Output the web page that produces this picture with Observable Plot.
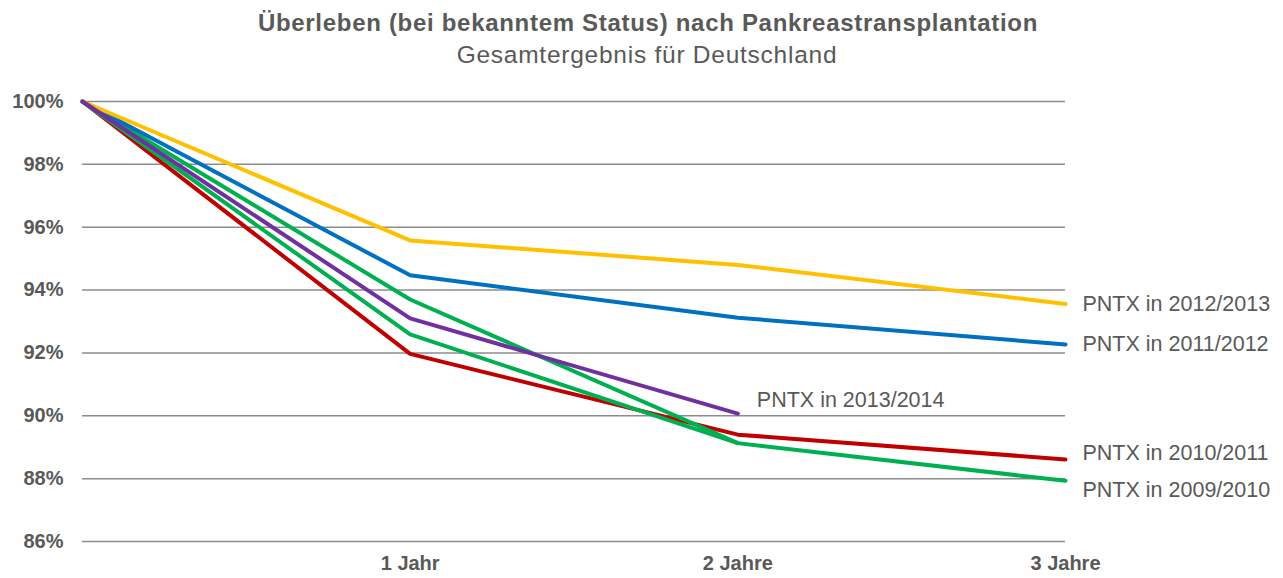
<!DOCTYPE html>
<html>
<head>
<meta charset="utf-8">
<script src="https://cdn.jsdelivr.net/npm/d3@7"></script>
<script src="https://cdn.jsdelivr.net/npm/@observablehq/plot@0.6"></script>
<style>
  html, body { margin: 0; padding: 0; background: #fff; }
  body { width: 1283px; height: 578px; overflow: hidden; font-family: "Liberation Sans", Arial, sans-serif; color: #595959; }
  #title { padding-top: 9px; height: 28px; line-height: 28px; font-size: 24px; letter-spacing: 0.7px; font-weight: bold; text-align: center; padding-left: 13px; white-space: nowrap; }
  #subtitle { margin-top: 4px; height: 28px; line-height: 28px; font-size: 24.5px; letter-spacing: 0.75px; text-align: center; padding-left: 11px; white-space: nowrap; }
  #chart svg { display: block; }
</style>
</head>
<body>
<div id="title">Überleben (bei bekanntem Status) nach Pankreastransplantation</div>
<div id="subtitle">Gesamtergebnis für Deutschland</div>
<div id="chart"></div>
<script>
// Categories (x positions 0..3)
const xLabels = ["", "1 Jahr", "2 Jahre", "3 Jahre"];
const yTicks = [86, 88, 90, 92, 94, 96, 98, 100];

// Series values (survival in %)
const pntx2012 = [100, 95.58, 94.80, 93.56];
const pntx2011 = [100, 94.47, 93.12, 92.27];
const pntx2009 = [100, 93.70, 89.13, 87.93];
const pntxGreen2 = [100, 92.59, 89.13];
const pntx2013 = [100, 93.10, 90.07];
const pntx2010 = [100, 91.97, 89.40, 88.61];

const seriesNames = {
  pntx2012: "PNTX in 2012/2013",
  pntx2011: "PNTX in 2011/2012",
  pntx2010: "PNTX in 2010/2011",
  pntx2009: "PNTX in 2009/2010",
  pntx2013: "PNTX in 2013/2014"
};

const toRows = arr => arr.map((v, i) => ({x: i, y: v}));
const lastRow = arr => ({x: arr.length - 1, y: arr[arr.length - 1]});

const lw = 4;
const lineOpts = (color) => ({x: "x", y: "y", stroke: color, strokeWidth: lw, strokeLinecap: "round", strokeLinejoin: "round"});
const labelOpts = (name, dx, dy) => ({x: "x", y: "y", text: () => name, dx, dy, textAnchor: "start", fontSize: 21.5, fill: "#595959"});

const chart = Plot.plot({
  width: 1283,
  height: 509,
  marginTop: 32,
  marginBottom: 37,
  marginLeft: 82,
  marginRight: 218,
  style: {fontFamily: "'Liberation Sans', Arial, sans-serif", color: "#595959", background: "#fff"},
  x: {domain: [0, 3]},
  y: {domain: [86, 100]},
  marks: [
    Plot.ruleY(yTicks, {stroke: "#8c8c8c", strokeWidth: 1.5}),
    Plot.axisY({ticks: yTicks, tickSize: 0, tickPadding: 19, tickFormat: d => d + "%", fontSize: 20, fontWeight: "bold", fill: "#595959", label: null, letterSpacing: 0.8}),
    Plot.axisX({ticks: [1, 2, 3], tickSize: 0, tickPadding: 14, tickFormat: d => xLabels[d], fontSize: 20, fontWeight: "bold", fill: "#595959", label: null, letterSpacing: 0.6}),
    Plot.line(toRows(pntx2010), lineOpts("#C00000")),
    Plot.line(toRows(pntxGreen2), lineOpts("#00B050")),
    Plot.line(toRows(pntx2009), lineOpts("#00B050")),
    Plot.line(toRows(pntx2011), lineOpts("#0070C0")),
    Plot.line(toRows(pntx2012), lineOpts("#FFC000")),
    Plot.line(toRows(pntx2013), lineOpts("#7030A0")),
    Plot.text([lastRow(pntx2012)], labelOpts(seriesNames.pntx2012, 17, 0)),
    Plot.text([lastRow(pntx2011)], labelOpts(seriesNames.pntx2011, 17, 0)),
    Plot.text([lastRow(pntx2010)], labelOpts(seriesNames.pntx2010, 17, -6)),
    Plot.text([lastRow(pntx2009)], labelOpts(seriesNames.pntx2009, 17, 9)),
    Plot.text([lastRow(pntx2013)], labelOpts(seriesNames.pntx2013, 19, -13))
  ]
});
document.getElementById("chart").appendChild(chart);
</script>
</body>
</html>
